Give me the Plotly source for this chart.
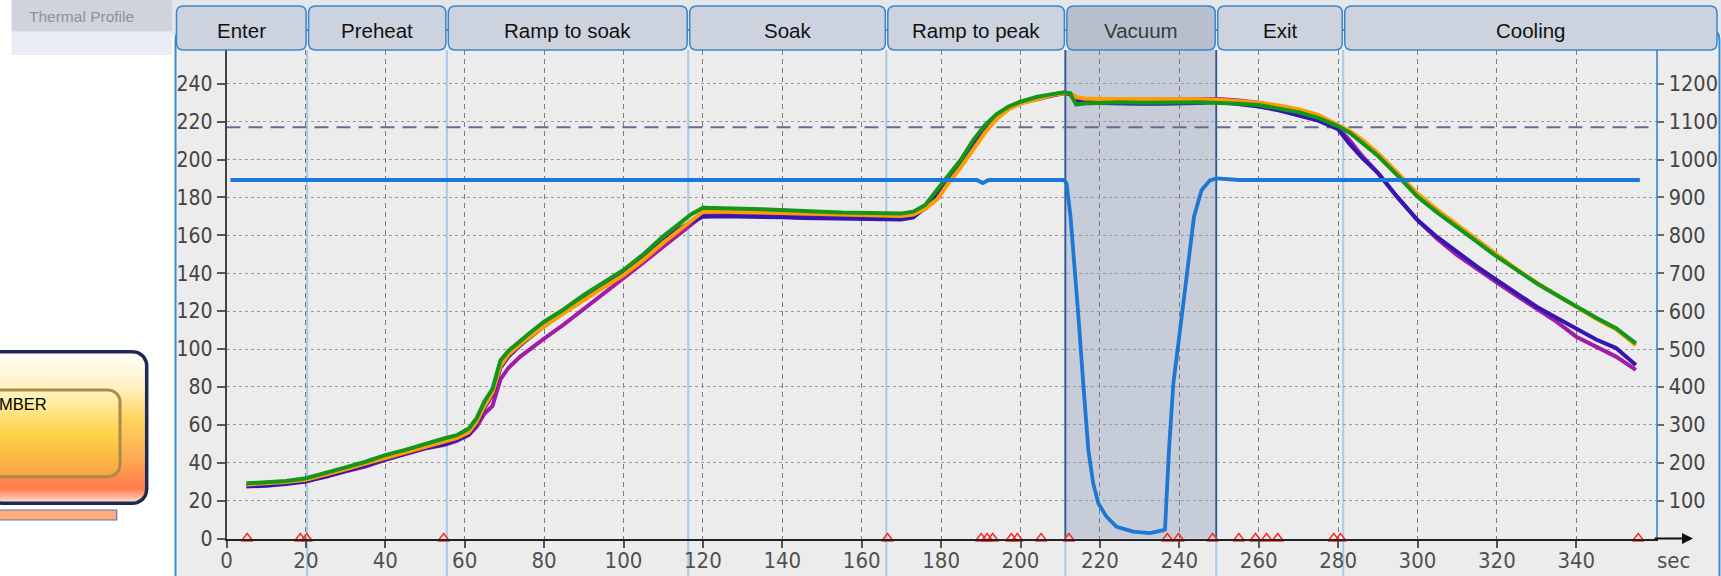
import math
import plotly.graph_objects as go

# ---------------- data ----------------
TIME = [5, 10, 15, 20, 25, 30, 35, 40, 45, 50, 55, 58, 61, 63, 65, 67, 69, 71, 74, 77,
        80, 85, 90, 95, 100, 105, 110, 114, 117, 120, 125, 130, 135, 140, 145, 150, 155,
        160, 165, 170, 173, 176, 179, 182, 185, 188, 191, 194, 197, 200, 204, 208, 211,
        212.5, 214, 216, 220, 225, 230, 235, 240, 245, 250, 255, 260, 265, 270, 275, 280,
        283, 286, 290, 295, 300, 305, 310, 315, 320, 325, 330, 335, 340, 345, 350, 355]

T_GREEN = [29.1, 29.5, 30.3, 31.8, 34.5, 37.5, 40.5, 44, 46.8, 50, 52.9, 54.5, 58, 63.5, 72.5,
           79, 94, 99, 104.5, 109.5, 114.4, 121, 128.5, 135, 141.7, 150, 159.5, 166, 171,
           174.5, 174.5, 174, 173.8, 173.5, 173, 172.5, 172, 171.8, 171.5, 171.5, 172.5, 176,
           184, 192, 200, 210, 218, 224, 228, 230.5, 233, 234.5, 235.5, 235, 229, 229.6,
           230, 230.2, 230, 230.3, 230.1, 230.2, 230, 229.5, 228.8, 227, 225, 222, 217.5,
           214, 209, 202, 191.5, 180.4, 172, 164, 156.5, 148.7, 141.5, 134.7, 128.5, 122.3,
           116.5, 111, 103]

T_ORANGE = [28.5, 29, 29.8, 31, 33.5, 36.5, 39.5, 42.5, 45.5, 48.5, 51.5, 53, 56, 61.5, 70,
            77, 91, 97, 102.5, 107.5, 112, 119, 126, 132.5, 139, 147, 156, 162.5, 167.5,
            172.5, 172.5, 172.5, 172, 171.8, 171.5, 171, 170.8, 170.5, 170.3, 170.2, 171,
            174, 179, 188, 196, 205, 214, 221.5, 226.5, 229.5, 232, 234, 235, 235, 233,
            232.2, 232, 232, 232.2, 232, 231.8, 231.8, 231.5, 231, 230, 228.5, 226.5, 223.5,
            218.5, 215, 210.5, 203.5, 193, 182, 173.5, 165.5, 157.5, 149.5, 142, 135, 128.5,
            122, 116, 110.5, 102]

T_PURPLE = [28, 28.3, 29, 30.3, 32.5, 35.5, 38, 41.5, 44.5, 47.5, 49.5, 51.5, 54.5, 59, 66,
            70, 84, 90, 96, 101, 105.5, 113, 121, 129, 137, 145.5, 154, 160.5, 165.5, 170.5,
            171, 171, 170.8, 170.5, 170.5, 170.2, 170, 169.8, 169.5, 169.5, 170.5, 174, 181,
            190, 198, 208, 216.5, 223, 227.5, 230, 232.5, 234, 235.2, 235, 232, 231.2, 231,
            231.3, 231.5, 231.5, 232, 232.3, 232, 231.2, 230, 228, 225.5, 221.5, 216.5, 210,
            202, 193, 180, 168, 158, 149.5, 142, 135, 128, 121, 114.5, 106.5, 101, 96, 89]

T_BLUE = [27.5, 27.8, 28.7, 30, 32.8, 35.5, 38.5, 41.8, 44.8, 47.8, 49.8, 52, 55, 60.5, 69,
          76, 90, 96, 102, 107, 112, 119.5, 127, 134, 140.5, 148.5, 157, 163.5, 167, 169.8,
          170, 170, 169.8, 169.5, 169.2, 169, 168.8, 168.5, 168.4, 168.4, 169.5, 174.5, 182,
          190.5, 199, 208.5, 217, 223, 227.2, 229.8, 232, 233.8, 235, 234.5, 231, 230, 229.8,
          229.5, 229.4, 229.5, 229.6, 229.8, 230.5, 229.5, 228, 226, 223.5, 220.5, 216, 208,
          201, 193, 180, 168.1, 159, 151, 143.5, 136.4, 129.5, 122.3, 116.5, 110.9, 105,
          100.5, 91.6]

P_TIME = [1, 189, 190.5, 192, 211, 211.6, 212.6, 213.3, 214.6, 215.8, 217.1, 218.3, 219.6,
          221.7, 224.2, 228.4, 232.6, 236, 236.4, 237.4, 238.5, 240.6, 242.7, 243.7, 245.6,
          247.7, 249.4, 252.8, 255, 356]
PRESSURE = [946, 946, 938, 946, 946, 937, 849, 761, 585, 409, 233, 146, 93, 57, 31, 18, 14,
            22, 24, 233, 409, 585, 761, 849, 919, 945, 950, 949, 946, 946]

EVENT_TIME = [5.2, 18.6, 20.2, 54.7, 166.5, 190.1, 191.6, 193, 197.7, 199.2, 205.2, 212.2,
              237, 239.8, 248.4, 255, 259.2, 262, 264.8, 278.9, 280.6, 355.6]
EVENT_LEVEL = [0] * len(EVENT_TIME)

PHASES = ["Enter", "Preheat", "Ramp to soak", "Soak", "Ramp to peak", "Vacuum", "Exit", "Cooling"]
PHASE_EDGES = [20.3, 55.5, 116.3, 166.2, 211.3, 249.3, 281.3]
VACUUM_PHASE = "Vacuum"
LIQUIDUS = 217
MARK_200 = 200

X_TICKS = list(range(0, 341, 20))
Y_TICKS = list(range(0, 241, 20))
Y2_TICKS = list(range(100, 1201, 100))
X_RANGE = [0, 360]
Y_RANGE = [0, 257.8]
Y2_SCALE = 5

# ---------------- geometry (pixels) ----------------
W, H = 1721, 576
PLOT_L, PLOT_R, PLOT_T, PLOT_B = 226.5, 1655.7, 50.0, 538.5
FONT = "Liberation Sans, Arial, sans-serif"
NARROW = "Liberation Sans Narrow, Arial Narrow, DejaVu Sans Condensed, Roboto Condensed, Liberation Sans, sans-serif"


def px(x):
    return x / W


def py(y):
    return 1 - y / H


def data_to_px(x):
    return PLOT_L + (x - X_RANGE[0]) / (X_RANGE[1] - X_RANGE[0]) * (PLOT_R - PLOT_L)


def rounded_path(x0, y0, x1, y1, r):
    def P(x, y):
        return f"{px(x):.6f},{py(y):.6f}"
    return (f"M{P(x0 + r, y0)} L{P(x1 - r, y0)} Q{P(x1, y0)} {P(x1, y0 + r)} "
            f"L{P(x1, y1 - r)} Q{P(x1, y1)} {P(x1 - r, y1)} L{P(x0 + r, y1)} "
            f"Q{P(x0, y1)} {P(x0, y1 - r)} L{P(x0, y0 + r)} Q{P(x0, y0)} {P(x0 + r, y0)} Z")


def rounded_poly(x0, y0, x1, y1, r, n=10):
    pts = []
    for cx, cy, a0 in [(x1 - r, y0 + r, -90), (x1 - r, y1 - r, 0),
                       (x0 + r, y1 - r, 90), (x0 + r, y0 + r, 180)]:
        for k in range(n + 1):
            a = math.radians(a0 + 90 * k / n)
            pts.append((cx + r * math.cos(a), cy + r * math.sin(a)))
    pts.append(pts[0])
    return [p[0] for p in pts], [H - p[1] for p in pts]


fig = go.Figure()

# ---- decorative chamber box on the left (pixel axes) ----
ox, oy = rounded_poly(-12, 351.7, 146.7, 503.3, 14)
fig.add_trace(go.Scatter(
    x=ox, y=oy, xaxis="x3", yaxis="y3", mode="lines", fill="toself",
    line=dict(color="#1d2a55", width=3.5),
    fillgradient=dict(type="vertical", colorscale=[
        [0, "#ffe2d2"], [0.1, "#ff7a4c"], [0.3, "#ffab55"], [0.55, "#ffd35e"],
        [0.78, "#fff2c4"], [1, "#ffffff"]]),
    hoverinfo="skip", showlegend=False))
ix, iy = rounded_poly(-12, 390, 120, 476.7, 12)
fig.add_trace(go.Scatter(
    x=ix, y=iy, xaxis="x3", yaxis="y3", mode="lines", fill="toself",
    line=dict(color="#ad8a45", width=3),
    fillgradient=dict(type="vertical", colorscale=[
        [0, "#f6a445"], [0.5, "#ffd246"], [1, "#fff5c8"]]),
    hoverinfo="skip", showlegend=False))

# ---- temperature curves ----
for name, ys, col in [("TC3", T_PURPLE, "#a21ca8"), ("TC4", T_BLUE, "#3317b0"),
                      ("TC2", T_ORANGE, "#ff9d00"), ("TC1", T_GREEN, "#14961a")]:
    fig.add_trace(go.Scatter(x=TIME, y=ys, mode="lines", name=name,
                             line=dict(color=col, width=4), showlegend=False))

# ---- event markers ----
fig.add_trace(go.Scatter(x=EVENT_TIME, y=EVENT_LEVEL, mode="markers", cliponaxis=False,
                         marker=dict(symbol="triangle-up-open", size=10, color="#ff2a2a",
                                     line=dict(width=1.5, color="#ff2a2a")),
                         showlegend=False))

# ---- pressure ----
fig.add_trace(go.Scatter(x=P_TIME, y=PRESSURE, yaxis="y2", mode="lines",
                         line=dict(color="#1c78d4", width=3.8), showlegend=False))

shapes = []
# top strip and left header
shapes.append(dict(type="rect", xref="paper", yref="paper", x0=px(172), x1=1, y0=py(35), y1=1,
                   fillcolor="#e3e6eb", line=dict(width=0), layer="below"))
shapes.append(dict(type="rect", xref="paper", yref="paper", x0=px(11.5), x1=px(172),
                   y0=py(31.7), y1=1, fillcolor="#cfd4dc", line=dict(width=0), layer="below"))
shapes.append(dict(type="rect", xref="paper", yref="paper", x0=px(11.5), x1=px(172),
                   y0=py(55), y1=py(31.7), fillcolor="#e9edf3", line=dict(width=0), layer="below"))
# panel
shapes.append(dict(type="path", xref="paper", yref="paper",
                   path=rounded_path(175.5, 30, 1719.5, 610, 10),
                   fillcolor="#ececec", line=dict(color="#3b8ad0", width=2), layer="below"))
# bar under chamber box
shapes.append(dict(type="rect", xref="paper", yref="paper", x0=px(-2), x1=px(116.7),
                   y0=py(520), y1=py(510), fillcolor="#ffab7a",
                   line=dict(color="#4a7ac0", width=1.2), layer="below"))

vi = PHASES.index(VACUUM_PHASE)
vac0, vac1 = PHASE_EDGES[vi - 1], PHASE_EDGES[vi]
shapes.append(dict(type="rect", xref="x", yref="paper", x0=vac0, x1=vac1,
                   y0=py(PLOT_B), y1=py(PLOT_T), fillcolor="#c6cdd9",
                   line=dict(width=0), layer="below"))
for e in PHASE_EDGES:
    shapes.append(dict(type="line", xref="x", yref="paper", x0=e, x1=e, y0=0, y1=py(PLOT_T),
                       line=dict(color="#a9c9ea", width=2), layer="below"))
for e in (vac0, vac1):
    shapes.append(dict(type="line", xref="x", yref="paper", x0=e, x1=e,
                       y0=py(PLOT_B), y1=py(PLOT_T),
                       line=dict(color="#34558f", width=1.8), layer="below"))
# reference lines
shapes.append(dict(type="line", xref="x", yref="y", x0=X_RANGE[0], x1=X_RANGE[1],
                   y0=LIQUIDUS, y1=LIQUIDUS,
                   line=dict(color="#6e6890", width=2, dash="14px,8px"), layer="below"))
shapes.append(dict(type="line", xref="x", yref="y", x0=X_RANGE[0], x1=X_RANGE[1],
                   y0=MARK_200, y1=MARK_200,
                   line=dict(color="#cbc583", width=1.2, dash="3px,3px"), layer="below"))

annotations = []
# tabs
bounds = [None] + PHASE_EDGES + [None]
for i, name in enumerate(PHASES):
    left = 176.5 if bounds[i] is None else data_to_px(bounds[i]) + 1.5
    right = 1717 if bounds[i + 1] is None else data_to_px(bounds[i + 1]) - 1.0
    is_vac = name == VACUUM_PHASE
    shapes.append(dict(type="path", xref="paper", yref="paper",
                       path=rounded_path(left, 6, right, 50, 7),
                       fillcolor="#b7bfcd" if is_vac else "#cdd3de",
                       line=dict(color="#3b86cc", width=1.5), layer="above"))
    annotations.append(dict(xref="paper", yref="paper", x=px((left + right) / 2), y=py(30.5),
                            text=name, showarrow=False, xanchor="center", yanchor="middle",
                            font=dict(family=FONT, size=20.5, color="#3a3a3a" if is_vac else "#111")))

annotations.append(dict(xref="paper", yref="paper", x=px(27), y=py(16.5), text="Thermal Profile",
                        showarrow=False, xanchor="left", yanchor="middle",
                        font=dict(family=FONT, size=15.5, color="#8d929b")))
annotations.append(dict(xref="paper", yref="paper", x=px(48.5), y=py(403.5), text="MBER",
                        showarrow=False, xanchor="right", yanchor="middle",
                        font=dict(family=FONT, size=16.5, color="#000")))
annotations.append(dict(xref="paper", yref="paper", x=px(1673), y=py(560), text="sec",
                        showarrow=False, xanchor="center", yanchor="middle",
                        font=dict(family=NARROW, size=22, color="#505050")))
annotations.append(dict(xref="paper", yref="paper", x=px(1693), y=py(PLOT_B), text="",
                        showarrow=True, ax=-40, ay=0, arrowhead=2, arrowsize=1.1,
                        arrowwidth=2, arrowcolor="#111"))

fig.update_layout(
    width=W, height=H, autosize=False,
    margin=dict(l=0, r=0, t=0, b=0, pad=0, autoexpand=False),
    paper_bgcolor="white", plot_bgcolor="rgba(0,0,0,0)",
    font=dict(family=FONT),
    showlegend=False,
    xaxis=dict(domain=[px(PLOT_L), px(PLOT_R)], range=X_RANGE, tickvals=X_TICKS,
               automargin=False, ticklabelstandoff=-6,
               ticks="outside", ticklen=7, tickcolor="#555", tickwidth=1.5,
               showline=True, linecolor="#222", linewidth=2, zeroline=False,
               showgrid=True, gridcolor="#7c7c7c", gridwidth=1, griddash="5px,4px",
               tickfont=dict(family=NARROW, size=22, color="#505050"), anchor="y"),
    yaxis=dict(domain=[py(PLOT_B), py(PLOT_T)], range=Y_RANGE, tickvals=Y_TICKS,
               automargin=False,
               ticks="outside", ticklen=8, tickcolor="#555", tickwidth=1.5,
               showline=True, linecolor="#444", linewidth=1.5, zeroline=False,
               showgrid=True, gridcolor="#9a9a9a", gridwidth=1, griddash="3px,3px",
               tickfont=dict(family=NARROW, size=21, color="#444"), anchor="x"),
    yaxis2=dict(overlaying="y", side="right", anchor="x", automargin=False,
                range=[Y_RANGE[0] * Y2_SCALE, Y_RANGE[1] * Y2_SCALE], tickvals=Y2_TICKS,
                ticks="outside", ticklen=7, tickcolor="#666", tickwidth=1.5,
                showline=True, linecolor="#5b9bd5", linewidth=1.5, showgrid=False,
                zeroline=False, tickfont=dict(family=NARROW, size=21.5, color="#444")),
    xaxis3=dict(domain=[0, 1], range=[0, W], visible=False, anchor="y3", fixedrange=True,
                automargin=False),
    yaxis3=dict(domain=[0, 1], range=[0, H], visible=False, anchor="x3", fixedrange=True,
                automargin=False),
    shapes=shapes, annotations=annotations,
)

fig.write_html("out.html")
